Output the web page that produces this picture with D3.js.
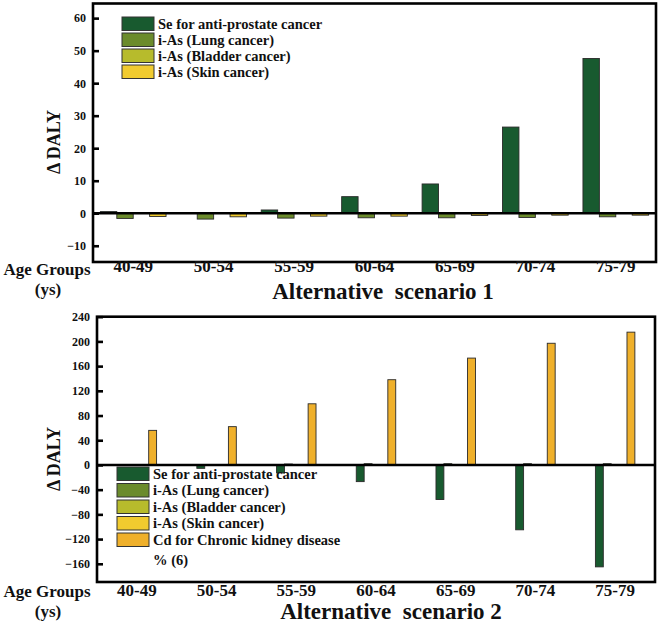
<!DOCTYPE html>
<html>
<head>
<meta charset="utf-8">
<script src="https://cdn.jsdelivr.net/npm/d3@7"></script>
<style>
  body { margin: 0; background: #fff; }
  text { font-family: "Liberation Serif", "Times New Roman", serif; font-weight: bold; fill: #111; }
</style>
</head>
<body>
<svg id="chart" width="661" height="624"></svg>
<script>
// ---------------- data ----------------
const ageGroups = ["40-49", "50-54", "55-59", "60-64", "65-69", "70-74", "75-79"];

// Alternative scenario 1
const s1Se      = [0.5, 0, 1.0, 5.1, 9.0, 26.5, 47.6];
const s1Lung    = [-1.6, -1.8, -1.5, -1.4, -1.4, -1.3, -1.1];
const s1Bladder = [-0.1, -0.1, -0.1, -0.1, -0.1, -0.1, -0.1];
const s1Skin    = [-1.0, -1.1, -0.9, -0.9, -0.7, -0.6, -0.6];
const s1Ticks   = [-10, 0, 10, 20, 30, 40, 50, 60];

// Alternative scenario 2
const s2Se      = [-1, -5.5, -13, -27, -56, -105, -165];
const s2Lung    = [0.5, 0.8, 1.5, 2, 2, 2, 2];
const s2Bladder = [0.3, 0.3, 0.3, 0.3, 0.3, 0.3, 0.3];
const s2Skin    = [0.3, 0.3, 0.3, 0.3, 0.3, 0.3, 0.3];
const s2Cd      = [56, 62, 99, 138, 173, 197, 215];
const s2Ticks   = [-160, -120, -80, -40, 0, 40, 80, 120, 160, 200, 240];

const seriesNames1 = ["Se for anti-prostate cancer", "i-As (Lung cancer)", "i-As (Bladder cancer)", "i-As (Skin cancer)"];
const seriesNames2 = ["Se for anti-prostate cancer", "i-As (Lung cancer)", "i-As (Bladder cancer)", "i-As (Skin cancer)", "Cd for Chronic kidney disease"];
const colors = ["#185a2f", "#6b8b2c", "#b7bb2c", "#f1cb2f", "#efb02b"];

// ---------------- drawing ----------------
const svg = d3.select("#chart");

function panel(cfg) {
  const g = svg.append("g");
  const x = d3.scaleBand().domain(ageGroups).range([cfg.left, cfg.right]).paddingInner(0).paddingOuter(0);
  const y = d3.scaleLinear().domain(cfg.domain).range([cfg.bottom, cfg.top]);
  const xs = d3.scaleBand().domain(d3.range(cfg.series.length))
    .range([0, x.bandwidth()]).paddingInner(0).paddingOuter(cfg.outerPad);

  // bars
  cfg.series.forEach((vals, si) => {
    g.append("g").selectAll("rect").data(vals).join("rect")
      .attr("x", (d, i) => x(ageGroups[i]) + xs(si))
      .attr("width", xs.bandwidth())
      .attr("y", d => Math.min(y(d), y(0)))
      .attr("height", d => Math.abs(y(d) - y(0)))
      .attr("fill", colors[si])
      .attr("stroke", "#2a2a2a")
      .attr("stroke-width", 0.9);
  });

  // zero line
  g.append("line")
    .attr("x1", cfg.left).attr("x2", cfg.right)
    .attr("y1", y(0)).attr("y2", y(0))
    .attr("stroke", "#000").attr("stroke-width", 2.4);

  // frame
  g.append("rect")
    .attr("x", cfg.left).attr("y", cfg.top)
    .attr("width", cfg.right - cfg.left).attr("height", cfg.bottom - cfg.top)
    .attr("fill", "none").attr("stroke", "#000").attr("stroke-width", 2.6);

  // y axis
  const ya = g.append("g").attr("transform", `translate(${cfg.left},0)`)
    .call(d3.axisLeft(y).tickValues(cfg.ticks).tickSizeInner(-6).tickSizeOuter(0).tickPadding(7));
  ya.select(".domain").remove();
  ya.selectAll(".tick line").attr("stroke", "#000").attr("stroke-width", 2.6);
  ya.selectAll(".tick text")
    .attr("x", -7)
    .style("font-family", '"Liberation Serif", serif').style("font-weight", "bold")
    .style("font-size", "12px").attr("fill", "#111");

  // x axis labels
  const xa = g.append("g").attr("transform", `translate(0,${cfg.bottom})`)
    .call(d3.axisBottom(x).tickSize(0).tickPadding(cfg.xPad));
  xa.select(".domain").remove();
  xa.selectAll(".tick text")
    .style("font-family", '"Liberation Serif", serif').style("font-weight", "bold")
    .style("font-size", "17px").attr("fill", "#111");

  // y label
  g.append("text")
    .attr("transform", `translate(${cfg.ylabX},${cfg.ylabY}) rotate(-90)`)
    .attr("text-anchor", "middle")
    .style("font-size", "18px")
    .text("\u0394 DALY");

  // Age Groups label
  g.append("text").attr("x", 47).attr("y", cfg.bottom + cfg.agY)
    .attr("text-anchor", "middle").style("font-size", "17px").text("Age Groups");
  g.append("text").attr("x", 48).attr("y", cfg.bottom + cfg.agY + 20)
    .attr("text-anchor", "middle").style("font-size", "17px").text("(ys)");

  // title
  g.append("text").attr("x", cfg.titleX).attr("y", cfg.titleY)
    .attr("text-anchor", "middle").style("font-size", "23px")
    .style("white-space", "pre").attr("xml:space", "preserve")
    .text(cfg.title);

  // legend
  const lg = g.append("g");
  cfg.names.forEach((name, i) => {
    const yy = cfg.legY + i * cfg.legStep;
    lg.append("rect").attr("x", cfg.legX).attr("y", yy)
      .attr("width", 32).attr("height", 13.5)
      .attr("fill", colors[i]).attr("stroke", "#333").attr("stroke-width", 1);
    lg.append("text").attr("x", cfg.legX + 36).attr("y", yy + 11.5)
      .style("font-size", "14.5px").text(name);
  });
  if (cfg.extra) {
    lg.append("text").attr("x", cfg.legX + 36).attr("y", cfg.legY + cfg.names.length * cfg.legStep + 15)
      .style("font-size", "14.5px").text(cfg.extra);
  }
}

panel({
  left: 93, right: 656, top: 3.5, bottom: 262,
  domain: [-15, 64.5], ticks: s1Ticks,
  series: [s1Se, s1Lung, s1Bladder, s1Skin], outerPad: 0.45,
  names: seriesNames1, legX: 122, legY: 17, legStep: 16,
  xPad: -2, agY: 13, ylabX: 60, ylabY: 142,
  title: "Alternative  scenario 1", titleX: 383, titleY: 299
});

panel({
  left: 97, right: 655, top: 316.7, bottom: 582,
  domain: [-189.5, 240], ticks: s2Ticks,
  series: [s2Se, s2Lung, s2Bladder, s2Skin, s2Cd], outerPad: 2.55,
  names: seriesNames2, legX: 117, legY: 467, legStep: 16.5, extra: "% (6)",
  xPad: 2, agY: 15, ylabX: 60, ylabY: 459,
  title: "Alternative  scenario 2", titleX: 391, titleY: 618.5
});
</script>
</body>
</html>
